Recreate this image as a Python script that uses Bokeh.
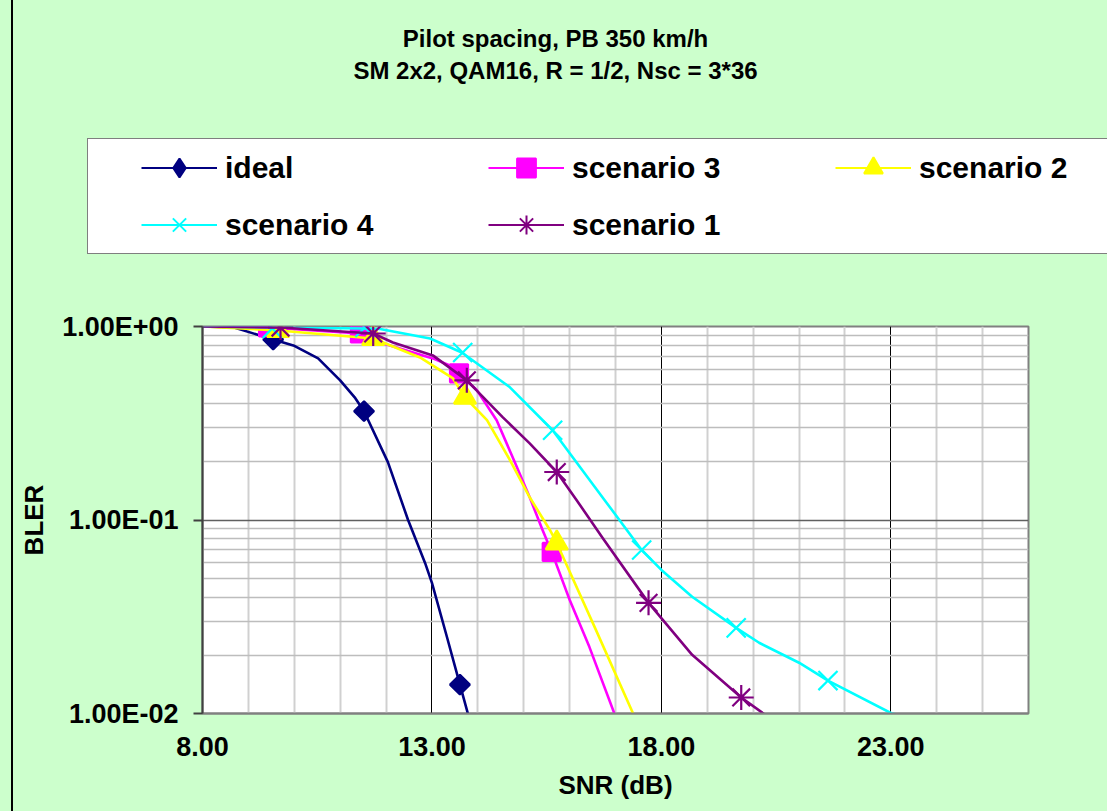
from bokeh.plotting import figure
from bokeh.layouts import column
from bokeh.models import Range1d, FixedTicker, Legend, LegendItem, Label
from bokeh.embed import file_html
from bokeh.resources import INLINE

FONT = "Liberation Sans"

title_lines = ["Pilot spacing, PB 350 km/h", "SM 2x2, QAM16, R = 1/2, Nsc = 3*36"]
x_label = "SNR (dB)"
y_label = "BLER"
x_ticks = [8, 13, 18, 23]
x_tick_labels = ["8.00", "13.00", "18.00", "23.00"]
x_minor = [9, 10, 11, 12, 14, 15, 16, 17, 19, 20, 21, 22, 24, 25]
y_ticks = [0.01, 0.1, 1.0]
y_tick_labels = ["1.00E-02", "1.00E-01", "1.00E+00"]
y_minor = [0.02, 0.03, 0.04, 0.05, 0.06, 0.07, 0.08, 0.09,
           0.2, 0.3, 0.4, 0.5, 0.6, 0.7, 0.8, 0.9]

series_names = ["ideal", "scenario 3", "scenario 2", "scenario 4", "scenario 1"]
series_colors = ["#000080", "#FF00FF", "#FFFF00", "#00FFFF", "#800080"]
series_markers = ["square", "square", "triangle", "x", "asterisk"]
series_legend_markers = ["diamond", "square", "triangle", "x", "asterisk"]
series_marker_angles = [45, 0, 0, 0, 0]
series_marker_sizes = [14, 18, 22, 27, 25]

# smoothed curves
ideal_curve_x = [8.0, 8.67, 9.54, 9.98, 10.52, 11.0, 11.33, 11.52, 12.04, 12.48, 12.85, 13.0, 13.33, 13.61, 13.83]
ideal_curve_y = [1.0, 0.99, 0.857, 0.798, 0.684, 0.527, 0.426, 0.365, 0.199, 0.1, 0.060, 0.0473, 0.0247, 0.0141, 0.0091]
s3_curve_x = [8.0, 9.43, 11.43, 11.87, 12.59, 13.02, 13.39, 13.59, 13.98, 14.41, 14.85, 15.13, 15.41, 15.61, 16.0, 16.43, 17.04]
s3_curve_y = [1.0, 0.988, 0.92, 0.827, 0.734, 0.684, 0.629, 0.573, 0.468, 0.328, 0.188, 0.131, 0.0888, 0.0684, 0.0387, 0.0221, 0.0091]
s2_curve_x = [8.0, 9.65, 11.72, 12.74, 13.46, 13.72, 14.2, 14.7, 15.13, 15.57, 15.72, 16.59, 17.46]
s2_curve_y = [1.0, 0.954, 0.867, 0.692, 0.539, 0.431, 0.328, 0.204, 0.131, 0.0888, 0.0761, 0.0265, 0.0091]
s4_curve_x = [8.0, 9.52, 11.54, 11.87, 12.96, 13.65, 14.7, 15.63, 16.76, 17.57, 18.0, 18.67, 19.63, 20.13, 21.0, 21.63, 23.02, 23.65]
s4_curve_y = [1.0, 0.988, 0.977, 0.97, 0.867, 0.734, 0.485, 0.291, 0.127, 0.070, 0.0552, 0.0401, 0.0277, 0.0232, 0.0183, 0.0148, 0.0100, 0.0093]
s1_curve_x = [8.0, 9.7, 11.72, 12.15, 13.02, 13.76, 14.54, 15.13, 15.72, 16.15, 16.72, 17.72, 18.67, 19.74, 20.46]
s1_curve_y = [1.0, 0.988, 0.92, 0.827, 0.709, 0.527, 0.340, 0.249, 0.177, 0.127, 0.0807, 0.0373, 0.0201, 0.0121, 0.0091]

# measured points (markers)
ideal_x = [9.54, 11.52, 13.61]
ideal_y = [0.857, 0.365, 0.0141]
s3_x = [9.43, 11.43, 13.59, 15.61]
s3_y = [0.988, 0.92, 0.573, 0.0684]
s2_x = [9.65, 11.72, 13.72, 15.72]
s2_y = [0.954, 0.867, 0.431, 0.0761]
s4_x = [9.52, 11.54, 13.67, 15.63, 17.57, 19.63, 21.63]
s4_y = [0.977, 0.988, 0.734, 0.291, 0.070, 0.0277, 0.0148]
s1_x = [9.7, 11.72, 13.76, 15.72, 17.72, 19.74]
s1_y = [0.988, 0.92, 0.527, 0.177, 0.0373, 0.0121]

curves = [(ideal_curve_x, ideal_curve_y), (s3_curve_x, s3_curve_y), (s2_curve_x, s2_curve_y),
          (s4_curve_x, s4_curve_y), (s1_curve_x, s1_curve_y)]
points = [(ideal_x, ideal_y), (s3_x, s3_y), (s2_x, s2_y), (s4_x, s4_y), (s1_x, s1_y)]

TOP_H = 290

# ---------- header: titles + legend (its own frame covers the whole header) ----------
top = figure(width=1107, height=TOP_H, x_range=Range1d(100, 101), y_range=Range1d(100, 101),
             output_backend="svg", toolbar_location=None, min_border=0,
             x_axis_location=None, y_axis_location=None, frame_align=False)
top.background_fill_alpha = 0
top.border_fill_alpha = 0
top.outline_line_color = None
top.xgrid.visible = False
top.ygrid.visible = False

# ---------- main plot ----------
p = figure(width=1107, height=811 - TOP_H, x_range=Range1d(8, 26), y_range=Range1d(0.01, 1.0),
           y_axis_type="log", output_backend="svg", toolbar_location=None, frame_align=False,
           min_border_left=202, min_border_right=79, min_border_top=326 - TOP_H, min_border_bottom=98)
p.border_fill_alpha = 0
p.background_fill_color = "white"
p.outline_line_color = "#808080"
p.outline_line_width = 2

p.xaxis.ticker = FixedTicker(ticks=x_ticks, minor_ticks=x_minor)
p.xaxis.major_label_overrides = {t: l for t, l in zip(x_ticks, x_tick_labels)}
p.yaxis.ticker = FixedTicker(ticks=y_ticks, minor_ticks=y_minor)
p.yaxis.major_label_overrides = {t: l for t, l in zip(y_ticks, y_tick_labels)}
for ax in (p.xaxis[0], p.yaxis[0]):
    ax.major_label_text_font = FONT
    ax.major_label_text_font_style = "bold"
    ax.major_label_text_font_size = "27px"
    ax.major_label_text_color = "black"
    ax.axis_label_text_font = FONT
    ax.axis_label_text_font_style = "bold"
    ax.axis_label_text_font_size = "26px"
    ax.axis_label_text_color = "black"
    ax.minor_tick_out = 0
    ax.minor_tick_in = 0
    ax.major_tick_in = 0
p.xaxis.axis_label = x_label
p.yaxis.axis_label = y_label
p.xaxis.major_tick_out = 0
p.xaxis.axis_line_color = "#808080"
p.xaxis.axis_line_width = 2
p.xaxis.major_label_standoff = 23
p.xaxis.axis_label_standoff = 11
p.yaxis.major_tick_out = 9
p.yaxis.major_tick_line_color = "#404040"
p.yaxis.major_tick_line_width = 2
p.yaxis.axis_line_color = "#404040"
p.yaxis.axis_line_width = 2
p.yaxis.major_label_standoff = 15
p.yaxis.axis_label_standoff = 10

p.xgrid.grid_line_color = "black"
p.xgrid.grid_line_width = 1
p.xgrid.minor_grid_line_color = "#D0D0D0"
p.xgrid.minor_grid_line_width = 2
p.ygrid.grid_line_color = "#606060"
p.ygrid.grid_line_width = 1.5
p.ygrid.minor_grid_line_color = "#BDBDBD"
p.ygrid.minor_grid_line_width = 1.5

items = []
for name, col, mk, lmk, ang, ms, (cx, cy), (mx, my) in zip(
        series_names, series_colors, series_markers, series_legend_markers,
        series_marker_angles, series_marker_sizes, curves, points):
    p.line(cx, cy, line_color=col, line_width=2.6, line_join="round")
    p.scatter(mx, my, marker=mk, size=ms, angle=ang, angle_units="deg",
              fill_color=col, line_color=col, line_width=2.2)
    # same series in the header figure (outside its ranges) -> only used as legend swatches
    lr = top.line(cx, cy, line_color=col, line_width=2)
    sr = top.scatter(mx, my, marker=lmk, size=ms, fill_color=col, line_color=col, line_width=2)
    items.append(LegendItem(label=name, renderers=[lr, sr]))

legend = Legend(items=items, location=(87, TOP_H - 254), orientation="horizontal", ncols=3,
                glyph_width=76, glyph_height=47, label_width=253, label_height=47,
                label_standoff=8, spacing=10, padding=5, margin=0,
                label_text_font=FONT, label_text_font_style="bold", label_text_font_size="30px",
                label_text_color="black",
                border_line_color="black", border_line_width=1.5,
                background_fill_color="white", background_fill_alpha=1.0,
                title="\u00a0", title_location="left", title_text_font_size="30px",
                title_standoff=14)
top.add_layout(legend, "center")

for txt, yc in zip(title_lines, [38, 70]):
    top.add_layout(Label(x=555, y=TOP_H - yc, x_units="screen", y_units="screen", text=txt,
                         text_align="center", text_baseline="middle", text_font=FONT,
                         text_font_style="bold", text_font_size="24px", text_color="black"))

layout = column(top, p, spacing=0,
                styles={"background": "linear-gradient(to right, #CCFFCC 0px, #CCFFCC 11px, "
                                      "#000000 11px, #000000 13px, #CCFFCC 13px)"})

open("out.html", "w").write(file_html(layout, INLINE))
